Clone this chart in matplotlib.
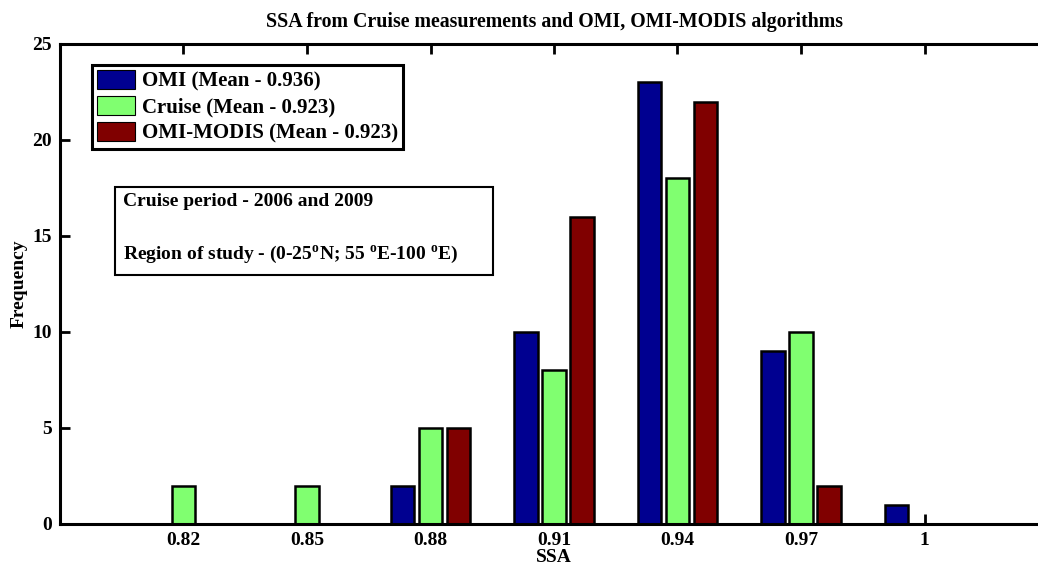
import matplotlib
matplotlib.use('Agg')
import matplotlib.pyplot as plt
from matplotlib.patches import Rectangle
import numpy as np

plt.rcParams['font.family'] = ['Liberation Serif', 'DejaVu Serif']
plt.rcParams['font.weight'] = 'bold'
plt.rcParams['mathtext.fontset'] = 'custom'
plt.rcParams['mathtext.rm'] = 'Liberation Serif:bold'
plt.rcParams['mathtext.bf'] = 'Liberation Serif:bold'

# 数据
ssa_bins = [0.82, 0.85, 0.88, 0.91, 0.94, 0.97, 1.00]
tick_labels = ['0.82', '0.85', '0.88', '0.91', '0.94', '0.97', '1']
omi = [0, 0, 2, 10, 23, 9, 1]
cruise = [2, 2, 5, 8, 18, 10, 0]
omi_modis = [0, 0, 5, 16, 22, 2, 0]

labels = ['OMI (Mean - 0.936)', 'Cruise (Mean - 0.923)', 'OMI-MODIS (Mean - 0.923)']
colors = ['#000090', '#80FF70', '#800000']
fs = 14

fig = plt.figure(figsize=(10.38, 5.68), dpi=100)
ax = fig.add_axes([60 / 1038, 44 / 568, 988 / 1038, 480 / 568])

x = np.array(ssa_bins)
width = 0.0056
offset = 0.0068
for i, (vals, lab, col) in enumerate(zip([omi, cruise, omi_modis], labels, colors)):
    vals = np.array(vals, dtype=float)
    keep = vals > 0  # 零值不画
    ax.bar((x + (i - 1) * offset)[keep], vals[keep], width=width, color=col,
           edgecolor='black', linewidth=1.8, label=lab, zorder=2)

ax.set_xlim(0.79, 1.03)
ax.set_ylim(0, 25)
ax.set_xticks(ssa_bins)
ax.set_xticklabels(tick_labels)
ax.set_yticks([0, 5, 10, 15, 20, 25])
ax.set_axisbelow(True)
ax.tick_params(direction='in', length=7, width=2, top=True, right=True,
               labelsize=fs)
ax.tick_params(axis='x', pad=6)
ax.tick_params(axis='y', pad=6)
for sp in ax.spines.values():
    sp.set_linewidth(2.2)
    sp.set_zorder(3)

ax.set_title('SSA from Cruise measurements and OMI, OMI-MODIS algorithms',
             fontsize=14.3, fontweight='bold', pad=12)
ax.set_xlabel('SSA', fontsize=fs, fontweight='bold', labelpad=0)
ax.set_ylabel('Frequency', fontsize=fs, fontweight='bold', labelpad=3)

leg = ax.legend(loc='upper left', bbox_to_anchor=(0.032, 0.956), borderaxespad=0,
                prop={'family': 'Liberation Serif', 'weight': 'bold', 'size': 15},
                handlelength=1.85, handleheight=1.0, handletextpad=0.3,
                labelspacing=0.22, borderpad=0.25, fancybox=False, framealpha=1)
leg.get_frame().set_edgecolor('black')
leg.get_frame().set_linewidth(2.2)
for h in leg.legend_handles:
    h.set_linewidth(0.8)

# 说明文字框
ax.add_patch(Rectangle((0.0557, 0.519), 0.383, 0.183, transform=ax.transAxes,
                       facecolor='white', edgecolor='black', linewidth=1.5, zorder=4))
ax.text(0.064, 0.672, 'Cruise period - 2006 and 2009', transform=ax.transAxes,
        fontsize=fs, fontweight='bold', va='center', ha='left', zorder=5)
ax.text(0.064, 0.562, r'Region of study - (0-25$^{\mathrm{o}}$N; 55 $^{\mathrm{o}}$E-100 $^{\mathrm{o}}$E)',
        transform=ax.transAxes, fontsize=fs, fontweight='bold', va='center', ha='left', zorder=5)

fig.savefig('out.png', dpi=100)
